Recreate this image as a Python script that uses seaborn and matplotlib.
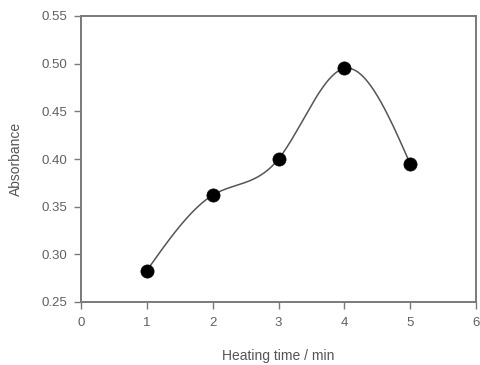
import numpy as np
import pandas as pd
import matplotlib
matplotlib.use("Agg")
import matplotlib.pyplot as plt
import seaborn as sns

# Measured absorbance for each heating time
heating_time = [1, 2, 3, 4, 5]
absorbance = [0.283, 0.362, 0.400, 0.495, 0.395]

x_ticks = [0, 1, 2, 3, 4, 5, 6]
y_ticks = [0.25, 0.30, 0.35, 0.40, 0.45, 0.50, 0.55]


def natural_spline(x, y, n=300):
    """Natural cubic spline through the points, evaluated on a fine grid."""
    x = np.asarray(x, float)
    y = np.asarray(y, float)
    k = len(x)
    h = np.diff(x)
    A = np.zeros((k, k))
    b = np.zeros(k)
    A[0, 0] = A[-1, -1] = 1.0
    for i in range(1, k - 1):
        A[i, i - 1] = h[i - 1]
        A[i, i] = 2 * (h[i - 1] + h[i])
        A[i, i + 1] = h[i]
        b[i] = 3 * ((y[i + 1] - y[i]) / h[i] - (y[i] - y[i - 1]) / h[i - 1])
    c = np.linalg.solve(A, b)
    xs = np.linspace(x[0], x[-1], n)
    idx = np.clip(np.searchsorted(x, xs) - 1, 0, k - 2)
    dx = xs - x[idx]
    bi = (y[idx + 1] - y[idx]) / h[idx] - h[idx] * (2 * c[idx] + c[idx + 1]) / 3
    di = (c[idx + 1] - c[idx]) / (3 * h[idx])
    ys = y[idx] + bi * dx + c[idx] * dx ** 2 + di * dx ** 3
    return xs, ys


sns.set_theme(style="white")
plt.rcParams["font.family"] = ["Liberation Sans", "DejaVu Sans"]

df = pd.DataFrame({"Heating time": heating_time, "Absorbance": absorbance})
xs, ys = natural_spline(heating_time, absorbance)
curve = pd.DataFrame({"x": xs, "y": ys})

fig = plt.figure(figsize=(4.8, 3.65), dpi=100)
ax = fig.add_axes([81 / 480, 63 / 365, (476 - 81) / 480, (302 - 16) / 365])

sns.lineplot(data=curve, x="x", y="y", ax=ax, color="#555555", linewidth=1.1,
             sort=False, legend=False)
sns.scatterplot(data=df, x="Heating time", y="Absorbance", ax=ax, color="black",
                s=90, edgecolor="black", linewidth=0.5, zorder=3, legend=False)

ax.set_xlim(0, 6)
ax.set_ylim(0.25, 0.55)
ax.set_xticks(x_ticks)
ax.set_xticklabels([str(t) for t in x_ticks])
ax.set_yticks(y_ticks)
ax.set_yticklabels([f"{t:.2f}" for t in y_ticks])

for side in ["left", "right", "top", "bottom"]:
    ax.spines[side].set_visible(True)
    ax.spines[side].set_color("#7a7a7a")
    ax.spines[side].set_linewidth(1.4)

ax.tick_params(axis="both", which="both", direction="out", length=5, width=1.0,
               color="#7a7a7a", labelsize=9.5, labelcolor="#606060",
               left=True, bottom=True, top=False, right=False)
ax.tick_params(axis="x", pad=6)
ax.tick_params(axis="y", pad=5)

ax.set_xlabel("Heating time / min", fontsize=10, color="#555555", labelpad=14)
ax.set_ylabel("Absorbance", fontsize=10, color="#555555", labelpad=13)

fig.savefig("out.png", dpi=100)
